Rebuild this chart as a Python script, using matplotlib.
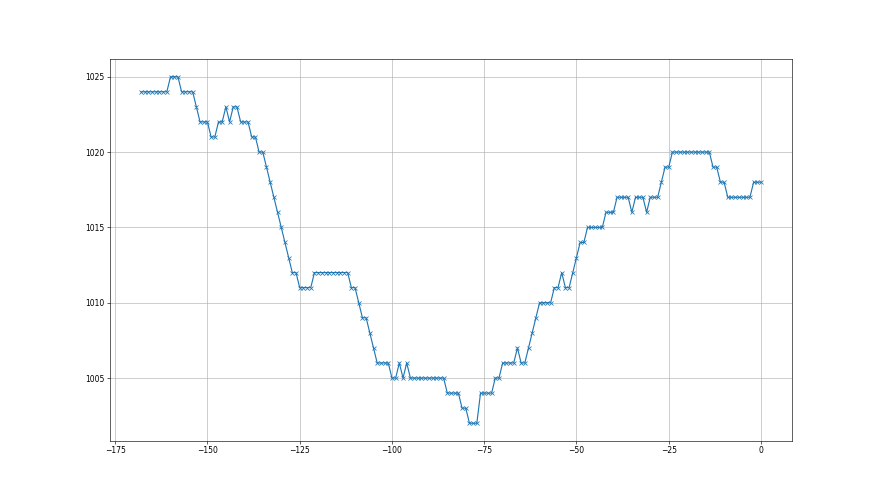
#!/usr/bin/env python3
"""Pressure readings over the last week (hours relative to now)."""

import numpy as np
import matplotlib
matplotlib.use("Agg")
import matplotlib.pyplot as plt

# hours before now, one reading per hour
hours = np.arange(-168, 1)

# (value, number of consecutive hourly readings)
runs = [
    (1024, 8), (1025, 3), (1024, 4), (1023, 1), (1022, 3), (1021, 2),
    (1022, 2), (1023, 1), (1022, 1), (1023, 2), (1022, 3), (1021, 2),
    (1020, 2), (1019, 1), (1018, 1), (1017, 1), (1016, 1), (1015, 1),
    (1014, 1), (1013, 1), (1012, 2), (1011, 4), (1012, 10), (1011, 2),
    (1010, 1), (1009, 2), (1008, 1), (1007, 1), (1006, 4), (1005, 2),
    (1006, 1), (1005, 1), (1006, 1), (1005, 10), (1004, 4), (1003, 2),
    (1002, 3), (1004, 4), (1005, 2), (1006, 4), (1007, 1), (1006, 2),
    (1007, 1), (1008, 1), (1009, 1), (1010, 4), (1011, 2), (1012, 1),
    (1011, 2), (1012, 1), (1013, 1), (1014, 2), (1015, 5), (1016, 3),
    (1017, 4), (1016, 1), (1017, 3), (1016, 1), (1017, 3), (1018, 1),
    (1019, 2), (1020, 11), (1019, 2), (1018, 2), (1017, 7), (1018, 3),
]

pressure = [v for v, n in runs for _ in range(n)]


def main():
    fig = plt.figure(figsize=(16, 9), dpi=55)
    ax = fig.add_subplot(111)
    ax.plot(hours, pressure, marker="x")
    ax.grid(True)
    fig.savefig("out.png", dpi=55)


if __name__ == "__main__":
    main()
